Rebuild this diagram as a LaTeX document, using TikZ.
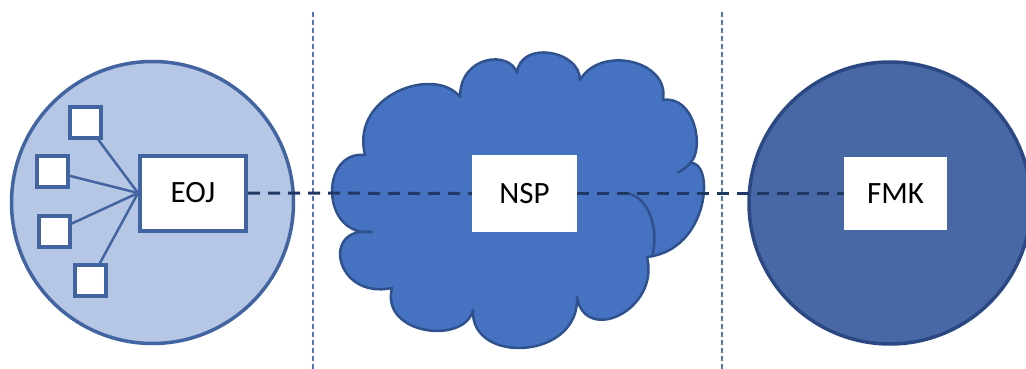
\documentclass[tikz,border=0pt]{standalone}
\usepackage{fontspec}
\setmainfont{Carlito}
\definecolor{lightfill}{RGB}{182,199,230}
\definecolor{lightedge}{RGB}{66,100,160}
\definecolor{cloudfill}{RGB}{70,114,194}
\definecolor{cloudedge}{RGB}{47,82,143}
\definecolor{darkfill}{RGB}{72,104,165}
\definecolor{darkedge}{RGB}{44,72,130}
\definecolor{navy}{RGB}{31,56,100}
\definecolor{sepline}{RGB}{80,115,185}
\begin{document}
\begin{tikzpicture}[x=1pt,y=-1pt,
  labelbox/.style={fill=white,inner sep=0pt,font=\fontsize{31}{37}\selectfont},
  smallsq/.style={draw=lightedge,fill=white,line width=3.5pt,minimum size=31pt,inner sep=0pt},
  spoke/.style={draw=lightedge,line width=2.5pt},
  link/.style={draw=navy,line width=3pt,dash pattern=on 12pt off 8pt},
  sep/.style={draw=sepline,line width=1.2pt,dash pattern=on 5pt off 3pt}]
\useasboundingbox (0,0) rectangle (1026,369);
\begin{scope}
\clip (0,0) rectangle (1026,369);
% separators
\draw[sep] (313,12) -- (313,369);
\draw[sep] (722,12) -- (722,369);
% left circle
\draw[fill=lightfill,draw=lightedge,line width=3.5pt] (152.5,202.5) circle[radius=141];
% right circle
\draw[fill=darkfill,draw=darkedge,line width=3.5pt] (890,203) circle[radius=141];
% cloud
\draw[fill=cloudfill,draw=cloudedge,line width=2.5pt,line join=round]
 (365,155) .. controls (320,150) and (320,237) .. (372,232)
 .. controls (320,225) and (335,300) .. (392,288)
 .. controls (380,335) and (465,345) .. (473,310)
 .. controls (470,365) and (580,360) .. (577,297)
 .. controls (585,345) and (660,310) .. (647,257)
 .. controls (710,250) and (715,160) .. (690,163)
 .. controls (705,150) and (695,95) .. (663,100)
 .. controls (670,60) and (600,45) .. (580,80)
 .. controls (580,50) and (520,40) .. (517,73)
 .. controls (510,50) and (460,55) .. (460,97)
 .. controls (435,65) and (350,95) .. (365,155) -- cycle;
\draw[draw=cloudedge,line width=2.5pt] (626,193) .. controls (648,196) and (660,228) .. (652,257);
\draw[draw=cloudedge,line width=2.5pt] (677,173) .. controls (683,170) and (688,166) .. (690,163);
\end{scope}
% boxes
\node[labelbox,draw=lightedge,line width=4pt,minimum width=106pt,minimum height=75pt] (eoj) at (193,193) {EOJ};
\node[labelbox,minimum width=105pt,minimum height=77pt] (nsp) at (524.5,193.5) {NSP};
\node[labelbox,minimum width=103pt,minimum height=73pt] (fmk) at (895.5,193.5) {FMK};
% small squares
\node[smallsq] (s1) at (85.5,122.5) {};
\node[smallsq] (s2) at (52.5,171.5) {};
\node[smallsq] (s3) at (54.5,231.5) {};
\node[smallsq] (s4) at (90.5,280.5) {};
\foreach \s in {s1,s2,s3,s4} \draw[spoke] (\s) -- (eoj.west);
% links
\draw[link] (eoj.east) -- (nsp.west);
\draw[link] (nsp.east) -- (fmk.west);
\end{tikzpicture}
\end{document}
